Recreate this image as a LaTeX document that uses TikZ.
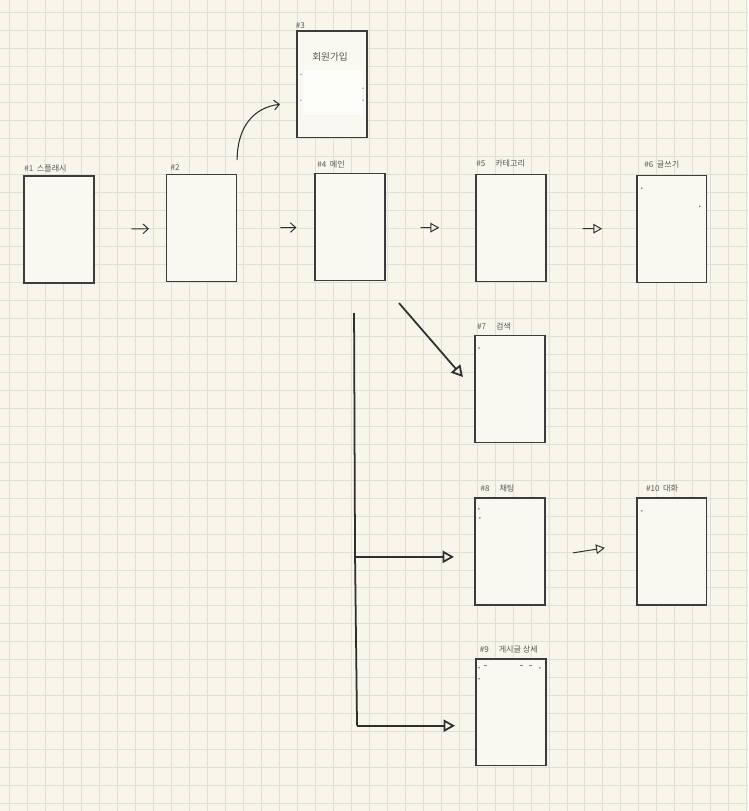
\documentclass[tikz,border=0pt]{standalone}
\usepackage{fontspec}
\newfontfamily\kr{Noto Sans CJK KR}
\usetikzlibrary{arrows.meta,positioning}

\definecolor{paper}{HTML}{F8F6EA}
\definecolor{gridline}{HTML}{DFDFD3}
\definecolor{frame}{HTML}{3C3C3C}
\definecolor{inner}{HTML}{FAF9F1}
\definecolor{pen}{HTML}{2E2E2E}

\begin{document}
\begin{tikzpicture}[
      x=0.02cm, y=-0.02cm,
      font=\kr\fontsize{4.6}{5.5}\selectfont,
      screen/.style ={rectangle, draw=frame, fill=inner, line width=0.85pt,
                      minimum width=1.4cm, minimum height=2.14cm, inner sep=0pt},
      tag/.style    ={anchor=south west, inner sep=0.5pt, text=pen!80},
      thin arrow/.style ={draw=pen, line width=0.55pt, -{Straight Barb[length=3pt,width=5.5pt]}},
      tri arrow/.style  ={draw=pen, line width=0.55pt, -{Triangle[open,length=5pt,width=5.5pt]}},
      big arrow/.style  ={draw=pen, line width=1pt, -{Triangle[open,length=6.5pt,width=7pt,line width=1pt]}},
      dot/.style    ={circle, fill=pen!70, inner sep=0pt, minimum size=1pt}
    ]

    % paper and grid
    \fill[paper] (0,0) rectangle (748,811);
    \foreach \gx in {9,27,...,747} \draw[gridline, line width=0.4pt] (\gx,0) -- (\gx,811);
    \foreach \gy in {12,30,...,810} \draw[gridline, line width=0.4pt] (0,\gy) -- (748,\gy);
    \useasboundingbox (0,0) rectangle (748,811);

    % screens
    \node[screen] (s1)  at (58.5,229.5) {};
    \node[screen] (s2)  at (201.5,228)  {};
    \node[screen] (s3)  at (332,84)     {};
    \node[screen] (s4)  at (350,227)    {};
    \node[screen] (s5)  at (511,228)    {};
    \node[screen] (s6)  at (672,229)    {};
    \node[screen] (s7)  at (510,389)    {};
    \node[screen] (s8)  at (510,551.5)  {};
    \node[screen] (s10) at (672,551.5)  {};
    \node[screen] (s9)  at (511,712.5)  {};

    % labels
    \node[tag, above right=1pt and 0pt of s1.north west]  {\#1 \ 스플래시};
    \node[tag, above right=1pt and 2pt of s2.north west]  {\#2};
    \node[tag, above right=0pt and -1pt of s3.north west] {\#3};
    \node[tag, above right=2pt and 1pt of s4.north west]  {\#4 \ 메인};
    \node[tag, above right=3pt and 0pt of s5.north west]  {\#5 \quad 카테고리};
    \node[tag, above right=3pt and 4pt of s6.north west]  {\#6 \ 글쓰기};
    \node[tag, above right=2pt and 1pt of s7.north west]  {\#7 \quad 검색};
    \node[tag, above right=2pt and 3pt of s8.north west]  {\#8 \quad 채팅};
    \node[tag, above right=2pt and 5pt of s10.north west] {\#10 \ 대화};
    \node[tag, above right=2pt and 2pt of s9.north west]  {\#9 \quad 게시글 상세};

    % screen contents
    \node[text=pen!80, font=\kr\fontsize{5.5}{6}\selectfont] (join) at (330,57) {회원가입};
    \fill[white!60!inner] (303,70) rectangle (362,115);
    \foreach \px/\py in {301/74, 301/100, 363/88, 363/100} \node[dot, fill=blue!40] at (\px,\py) {};
    \node[dot] at (642,188) {};
    \node[dot] at (700,206) {};
    \node[dot] at (479,348) {};
    \node[dot] at (479,509) {};
    \node[dot] at (480,518) {};
    \node[dot] at (642,511) {};
    \node[dot] at (479,668) {};
    \node[dot] at (479,679) {};
    \foreach \px in {484,520,529} \draw[pen!60, line width=0.3pt] (\px,665) -- +(3,0);
    \node[dot] at (540,668) {};

    % flow across the top row
    \draw[thin arrow, shorten <=0.74cm, shorten >=0.34cm] (s1) -- (s2);
    \draw[thin arrow, shorten <=0.86cm, shorten >=0.36cm] (s2) -- (s4);
    \draw[tri arrow,  shorten <=0.70cm, shorten >=0.72cm] (s4) -- (s5);
    \draw[tri arrow,  shorten <=0.72cm, shorten >=0.68cm] (s5) -- (s6);

    % chat to talk
    \coordinate (side_from) at (573,553);
    \coordinate (side_to)   at (605,548);
    \draw[tri arrow] (side_from) -- (side_to);

    % up to sign up
    \coordinate (up_from) at (237,160);
    \coordinate (up_to)   at (280,104);
    \draw[thin arrow, line width=0.6pt] (up_from) .. controls (237,125) and (255,107) .. (up_to);

    % down from main
    \coordinate (diag_from) at (399,303);
    \coordinate (diag_to)   at (463,377);
    \draw[big arrow] (diag_from) -- (diag_to);

    \coordinate (trunk_top) at (354,313);
    \coordinate (fork8)     at (355,557);
    \coordinate (fork9)     at (357,726);
    \coordinate (tip8)      at (454,557);
    \coordinate (tip9)      at (455,726);
    \draw[draw=pen, line width=1pt] (trunk_top) -- (fork8) -- (fork9);
    \draw[big arrow] (fork8) -- (tip8);
    \draw[big arrow] (fork9) -- (tip9);
\end{tikzpicture}
\end{document}
